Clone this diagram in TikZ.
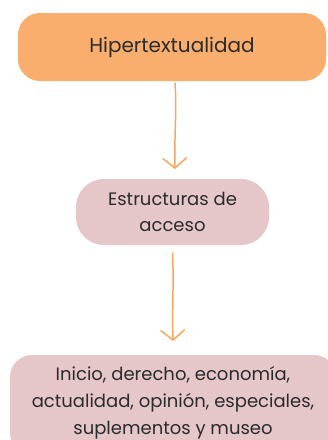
\documentclass[tikz,border=0pt]{standalone}
\usepackage{fontspec}
\setmainfont{Poppins}
\usetikzlibrary{arrows.meta}
\definecolor{boxorange}{HTML}{F9AE6E}
\definecolor{boxpink}{HTML}{E5C6C9}
\definecolor{arroworange}{HTML}{F6A95E}
\definecolor{txt}{HTML}{2B2B2B}
\begin{document}
\begin{tikzpicture}[x=1pt,y=1pt,
  box/.style={rounded corners=22pt, inner sep=0pt, align=center, text=txt, font=\fontsize{18}{26}\selectfont},
  flow/.style={draw=arroworange, line width=1.5pt, line cap=round, -{Straight Barb[length=10pt,width=24pt,line width=1.5pt]}}]
\clip (0,0) rectangle (328,-440);
\fill[white] (0,0) rectangle (328,-440);
\node[box, fill=boxorange, minimum width=308pt, minimum height=68pt, font=\fontsize{20}{26}\selectfont] (h) at (172,-47) {Hipertextualidad};
\node[box, fill=boxpink, minimum width=193pt, minimum height=66pt, rounded corners=28pt] (e) at (172.5,-212) {Estructuras de\\acceso};
\node[box, fill=boxpink, minimum width=326pt, minimum height=100pt] (i) at (173,-405) {};
\node[txt, align=center, font=\fontsize{18}{27}\selectfont] (it) at (173,-402.5) {Inicio, derecho, economía,\\actualidad, opinión, especiales,\\suplementos y museo};
\draw[flow] (h.south) ++(3,-2) coordinate (a1) .. controls (177,-110) and (174,-140) .. (175,-169);
\draw[flow] (e.south) ++(0,-8) coordinate (a2) .. controls (174,-280) and (172,-310) .. (173,-341);
\end{tikzpicture}
\end{document}
